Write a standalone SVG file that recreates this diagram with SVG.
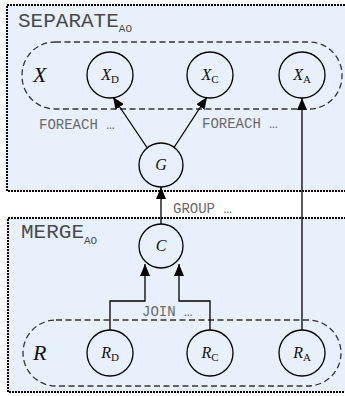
<svg xmlns="http://www.w3.org/2000/svg" width="345" height="396" viewBox="0 0 345 396">
  <defs>
    <marker id="arrow" viewBox="0 0 12 10" refX="12" refY="5" markerWidth="12" markerHeight="10" markerUnits="userSpaceOnUse" orient="auto">
      <path d="M0,0 L12,5 L0,10 z" fill="#000"/>
    </marker>
    <style>
      .panel { fill: #e8f0fc; stroke: #000; stroke-width: 2; stroke-dasharray: 2 1; }
      .set { fill: none; stroke: #333; stroke-width: 1.3; stroke-dasharray: 6 3.5; }
      .node { fill: none; stroke: #000; stroke-width: 1.3; }
      .edge { fill: none; stroke: #000; stroke-width: 1.3; marker-end: url(#arrow); }
      .title { font-family: "Liberation Mono", "DejaVu Sans Mono", monospace; font-size: 21px; fill: #4a4a4a; }
      .sub { font-size: 11px; }
      .op { font-family: "Liberation Mono", "DejaVu Sans Mono", monospace; font-size: 14px; fill: #6a6a6a; }
      .var { font-family: "Liberation Serif", "DejaVu Serif", serif; font-style: italic; fill: #111; }
      .nlabel { font-size: 16px; text-anchor: middle; }
      .idx { font-style: normal; font-size: 11px; }
      .big { font-size: 22px; }
    </style>
  </defs>

  <!-- stage panels -->
  <g id="separate">
    <rect class="panel" x="7" y="5" width="345" height="186"/>
    <text class="title" x="18" y="27">SEPARATE<tspan class="sub" dy="5">AO</tspan></text>
  </g>
  <g id="merge">
    <rect class="panel" x="8" y="218" width="345" height="174"/>
    <text class="title" x="21" y="238">MERGE<tspan class="sub" dy="6">AO</tspan></text>
  </g>

  <!-- variable sets -->
  <g id="set-x">
    <rect class="set" x="22" y="42" width="320" height="67" rx="33" ry="33"/>
    <text class="var big" x="33" y="82">X</text>
  </g>
  <g id="set-r">
    <rect class="set" x="23" y="320" width="318" height="66" rx="33" ry="33"/>
    <text class="var big" x="33" y="360">R</text>
  </g>

  <!-- connectors -->
  <g id="edges">
    <line class="edge" x1="147" y1="147.5" x2="113" y2="97"/>
    <line class="edge" x1="174" y1="147.5" x2="207" y2="97"/>
    <line class="edge" x1="161" y1="224" x2="161" y2="187"/>
    <line class="edge" x1="302" y1="330" x2="302" y2="98"/>
    <polyline class="edge" points="110,330 110,301 145,301 145,264"/>
    <polyline class="edge" points="210,330 210,301 179,301 179,264"/>
    <text class="op" x="39" y="129">FOREACH …</text>
    <text class="op" x="202" y="128">FOREACH …</text>
    <text class="op" x="173" y="213">GROUP …</text>
    <text class="op" x="142" y="316">JOIN …</text>
  </g>

  <!-- nodes -->
  <g id="xd">
    <circle class="node" cx="110" cy="75" r="23"/>
    <text class="var nlabel" x="110" y="80">X<tspan class="idx" dy="3">D</tspan></text>
  </g>
  <g id="xc">
    <circle class="node" cx="210" cy="75" r="23"/>
    <text class="var nlabel" x="210" y="80">X<tspan class="idx" dy="3">C</tspan></text>
  </g>
  <g id="xa">
    <circle class="node" cx="302" cy="75" r="23"/>
    <text class="var nlabel" x="302" y="80">X<tspan class="idx" dy="3">A</tspan></text>
  </g>
  <g id="g">
    <circle class="node" cx="161" cy="165" r="22"/>
    <text class="var nlabel" x="161" y="170">G</text>
  </g>
  <g id="c">
    <circle class="node" cx="161" cy="246" r="22"/>
    <text class="var nlabel" x="161" y="251">C</text>
  </g>
  <g id="rd">
    <circle class="node" cx="110" cy="353" r="23"/>
    <text class="var nlabel" x="110" y="358">R<tspan class="idx" dy="3">D</tspan></text>
  </g>
  <g id="rc">
    <circle class="node" cx="210" cy="353" r="23"/>
    <text class="var nlabel" x="210" y="358">R<tspan class="idx" dy="3">C</tspan></text>
  </g>
  <g id="ra">
    <circle class="node" cx="302" cy="353" r="23"/>
    <text class="var nlabel" x="302" y="358">R<tspan class="idx" dy="3">A</tspan></text>
  </g>
</svg>
